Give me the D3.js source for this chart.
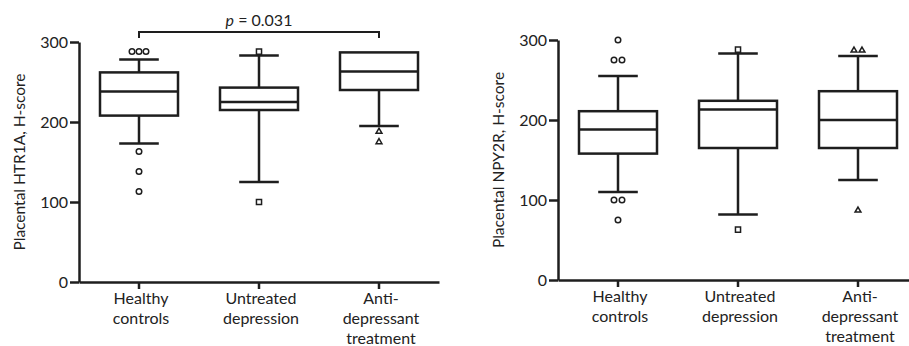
<!DOCTYPE html>
<html>
<head>
<style>
  body, html { margin: 0; padding: 0; background: #fff; }
  svg text { font-family: Lato, "Open Sans", sans-serif; fill: #222; }
</style>
</head>
<body>
<svg id="svg" width="909" height="346"></svg>
<script src="https://d3js.org/d3.v7.min.js"></script>
<script>
// categories and tick labels
const groups = ['Healthy controls', 'Untreated depression', 'Antidepressant treatment']
const groupLabels = [['Healthy', 'controls'], ['Untreated', 'depression'], ['Anti-', 'depressant', 'treatment']]
const yTicks = [0, 100, 200, 300]
const markerShapes = ['circle', 'square', 'triangle']

// HTR1A box statistics, one value per group
const htr1aLow    = [173, 125, 195]
const htr1aQ1     = [208, 215, 240]
const htr1aMedian = [238, 225, 263]
const htr1aQ3     = [262, 243, 287]
const htr1aHigh   = [278, 283, 287]
const htr1aOutliers = [[288, 288, 288, 163, 138, 113], [288, 100], [188, 175]]

// NPY2R box statistics
const npy2rLow    = [110, 82, 125]
const npy2rQ1     = [158, 165, 165]
const npy2rMedian = [188, 213, 200]
const npy2rQ3     = [211, 224, 236]
const npy2rHigh   = [255, 283, 280]
const npy2rOutliers = [[300, 275, 275, 100, 100, 75], [288, 63], [287, 287, 87]]

const svg = d3.select('#svg')
const ink = '#1e1e1e'

function drawPanel(opts) {
  const g = svg.append('g')
  const y = d3.scaleLinear().domain([0, 300]).range([opts.bottom, opts.top])
  const x = d3.scaleBand().domain(groups).range([opts.left, opts.left + 360])
  const cx = d => x(d) + x.bandwidth() / 2
  const boxW = x.bandwidth() * 0.65
  const capW = x.bandwidth() * 0.33

  // y axis
  const yAxis = g.append('g')
    .attr('transform', `translate(${opts.left},0)`)
    .call(d3.axisLeft(y).tickValues(yTicks).tickSize(9).tickSizeOuter(0).tickPadding(2))
  yAxis.select('.domain').attr('stroke', ink).attr('stroke-width', 2.5)
  yAxis.selectAll('.tick line').attr('stroke', ink).attr('stroke-width', 2.5)
  yAxis.selectAll('.tick text').attr('font-size', 16).attr('font-family', 'Lato').attr('fill', ink)

  // x axis
  const xAxis = g.append('g')
    .attr('transform', `translate(0,${opts.bottom})`)
    .call(d3.axisBottom(x).tickSize(7).tickSizeOuter(0).tickFormat(''))
  xAxis.select('.domain').attr('stroke', ink).attr('stroke-width', 2.5)
  xAxis.selectAll('.tick line').attr('stroke', ink).attr('stroke-width', 2.5)

  // category labels
  g.selectAll('.cat')
    .data(groups)
    .enter()
    .append('text')
    .attr('class', 'cat')
    .attr('x', d => cx(d) + 2)
    .attr('y', opts.bottom + 22)
    .attr('text-anchor', 'middle')
    .attr('font-size', 16)
    .each(function (d, i) {
      d3.select(this).selectAll('tspan')
        .data(groupLabels[i])
        .enter()
        .append('tspan')
        .attr('x', cx(d) + 2)
        .attr('dy', (t, j) => j === 0 ? 0 : 20)
        .text(t => t)
    })

  // y label
  g.append('text')
    .attr('transform', `translate(${opts.left - 54},${(opts.top + opts.bottom) / 2}) rotate(-90)`)
    .attr('text-anchor', 'middle')
    .attr('font-size', 15.5)
    .text(opts.label)

  // boxes
  const box = g.selectAll('.box')
    .data(groups)
    .enter()
    .append('g')
    .attr('class', 'box')
    .attr('stroke', ink)
    .attr('stroke-width', 2.5)
    .attr('fill', 'none')

  box.append('line')
    .attr('x1', d => cx(d)).attr('x2', d => cx(d))
    .attr('y1', (d, i) => y(opts.low[i])).attr('y2', (d, i) => y(opts.high[i]))
  box.append('rect')
    .attr('x', d => cx(d) - boxW / 2)
    .attr('width', boxW)
    .attr('y', (d, i) => y(opts.q3[i]))
    .attr('height', (d, i) => y(opts.q1[i]) - y(opts.q3[i]))
    .attr('fill', '#fff')
  box.append('line')
    .attr('x1', d => cx(d) - boxW / 2).attr('x2', d => cx(d) + boxW / 2)
    .attr('y1', (d, i) => y(opts.median[i])).attr('y2', (d, i) => y(opts.median[i]))
  box.filter((d, i) => opts.high[i] > opts.q3[i]).append('line')
    .attr('x1', d => cx(d) - capW / 2).attr('x2', d => cx(d) + capW / 2)
    .attr('y1', d => y(opts.high[groups.indexOf(d)])).attr('y2', d => y(opts.high[groups.indexOf(d)]))
  box.append('line')
    .attr('x1', d => cx(d) - capW / 2).attr('x2', d => cx(d) + capW / 2)
    .attr('y1', (d, i) => y(opts.low[i])).attr('y2', (d, i) => y(opts.low[i]))

  // outliers, tied values spread sideways
  const pts = []
  groups.forEach((grp, i) => {
    const counts = d3.rollup(opts.outliers[i], v => v.length, v => v)
    const seen = new Map()
    opts.outliers[i].forEach(v => {
      const n = counts.get(v)
      const k = seen.get(v) || 0
      seen.set(v, k + 1)
      pts.push({ grp, i, v, off: (k - (n - 1) / 2) * (n > 2 ? 7 : 8) })
    })
  })
  const sym = {
    circle: d3.symbol().type(d3.symbolCircle).size(24),
    square: d3.symbol().type(d3.symbolSquare).size(26),
    triangle: d3.symbol().type(d3.symbolTriangle).size(15)
  }
  g.selectAll('.pt')
    .data(pts)
    .enter()
    .append('path')
    .attr('transform', d => `translate(${cx(d.grp) + d.off},${y(d.v)})`)
    .attr('d', d => sym[markerShapes[d.i]]())
    .attr('fill', '#fff')
    .attr('stroke', ink)
    .attr('stroke-width', 1.5)

  return { x, y, cx }
}

const left = drawPanel({
  left: 79, top: 42, bottom: 282, label: 'Placental HTR1A, H-score',
  low: htr1aLow, q1: htr1aQ1, median: htr1aMedian, q3: htr1aQ3, high: htr1aHigh, outliers: htr1aOutliers
})
drawPanel({
  left: 558, top: 40, bottom: 280, label: 'Placental NPY2R, H-score',
  low: npy2rLow, q1: npy2rQ1, median: npy2rMedian, q3: npy2rQ3, high: npy2rHigh, outliers: npy2rOutliers
})

// significance bracket
const bx1 = left.cx(groups[0]), bx2 = left.cx(groups[2])
svg.append('path')
  .attr('d', `M${bx1},38V32H${bx2}V38`)
  .attr('fill', 'none')
  .attr('stroke', ink)
  .attr('stroke-width', 2)
const pt = svg.append('text')
  .attr('x', (bx1 + bx2) / 2)
  .attr('y', 26)
  .attr('text-anchor', 'middle')
  .attr('font-size', 16)
pt.append('tspan').attr('font-style', 'italic').text('p')
pt.append('tspan').text(' = 0.031')
</script>
</body>
</html>
